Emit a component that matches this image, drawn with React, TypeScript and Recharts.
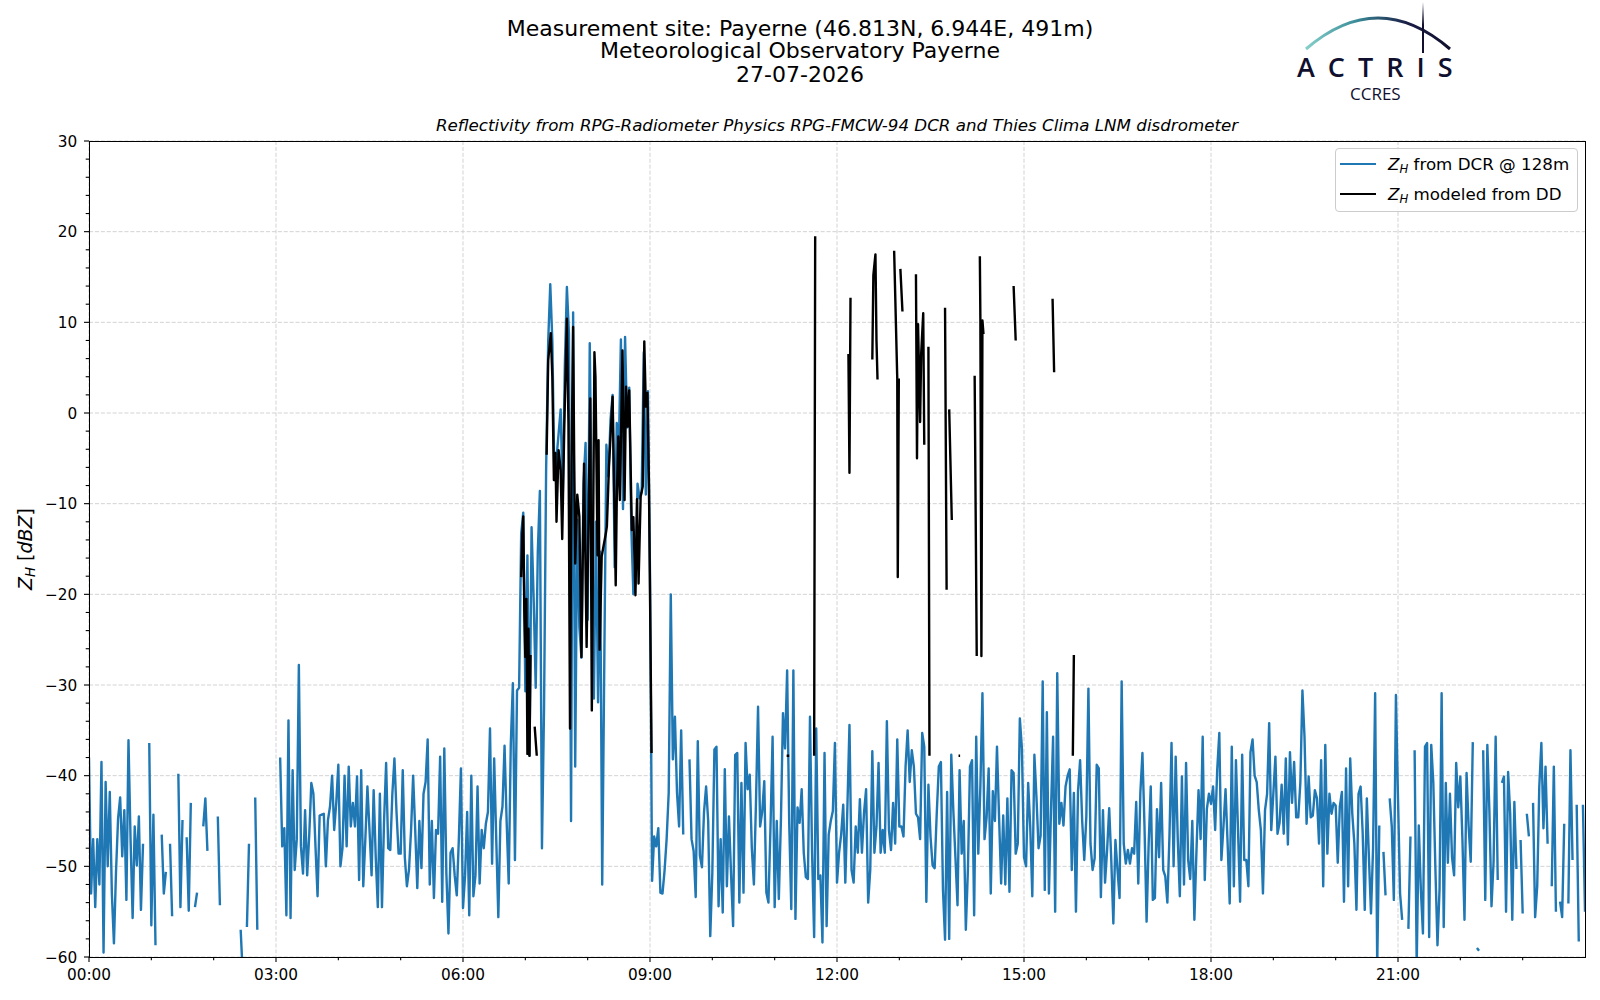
import React from 'react';
import { LineChart, Line, XAxis, YAxis, CartesianGrid, Legend } from 'recharts';

const FONT = '"DejaVu Sans", "Liberation Sans", sans-serif';
const BLUE = '#1f77b4';
const NAVY = '#10102e';

const titleLines = [
  'Measurement site: Payerne (46.813N, 6.944E, 491m)',
  'Meteorological Observatory Payerne',
  '27-07-2026',
];
const subtitle =
  'Reflectivity from RPG-Radiometer Physics RPG-FMCW-94 DCR and Thies Clima LNM disdrometer';

// x axis: minutes since 00:00
const hourTicks = [0, 60, 120, 180, 240, 300, 360, 420, 480, 540, 600, 660, 720, 780, 840, 900, 960, 1020, 1080, 1140, 1200, 1260, 1320, 1380];
const labelledHours = [0, 180, 360, 540, 720, 900, 1080, 1260];
// y axis: dBZ
const zTicks = [-60, -58, -56, -54, -52, -50, -48, -46, -44, -42, -40, -38, -36, -34, -32, -30, -28, -26, -24, -22, -20, -18, -16, -14, -12, -10, -8, -6, -4, -2, 0, 2, 4, 6, 8, 10, 12, 14, 16, 18, 20, 22, 24, 26, 28, 30];
const zLabelled = [-60, -50, -40, -30, -20, -10, 0, 10, 20, 30];

// Z_H from DCR @ 128m, one value every 2 minutes (null = no data)
const DCR_STEP_MIN = 2;
const dcrZ: (number | null)[] = [
  // 00
  -38, -53, -47, -54.5, -47, -52, -38.5, -59.5, -40.7, -50, -41.8, -53, -58.5, -50.6, -44.7, -42.4, -48.9, -43.8, -53.7, -36.1, -47, -55.7, -45.6, -49.9, -44.5, -54.8, -47.5, null, null, -36.4,
  // 01
  -56.5, -44.3, -58.7, null, null, -46.5, -53, -50.6, null, -47.5, -55.5, null, null, -39.8, -54.5, -44.9, null, -46.8, -54.9, -43, null, -54.5, -52.9, null, null, -45.6, -42.5, -48.3, null, null,
  // 02
  null, null, -44.5, -54.3, null, null, null, null, null, null, null, null, null, -57, -62, null, -56.7, -47.5, null, null, -42.4, -57, null, null, null, null, null, null, null, null,
  // 03
  null, null, -38, -47.8, -45.8, -55.4, -33.9, -55.7, -39.4, -50.4, -47, -27.8, -47.8, -50.8, -43.8, -51, -46.5, -40.8, -42, -47.8, -53.3, -44.4, -44.3, -44.2, -50, -44.9, -43.4, -40, -46, -43,
  // 04
  -38.8, -50, -48, -40, -47.8, -39, -45.6, -43, -45.6, -40.1, -51.5, -39.4, -52.2, -47, -41.2, -46, -51, -41.6, -49, -54.5, -42, -54.5, -45, -38.6, -48, -48.2, -42, -38.1, -44, -48.6,
  // 05
  -48.6, -39.4, -49, -52.2, -50.4, -46, -40, -46, -52.4, -45, -50.2, -42, -40.7, -36, -52, -45, -53.5, -46, -46.4, -37.9, -53.9, -37, -50.8, -57.4, -48.5, -48, -51, -53.2, -47, -39.2,
  // 06
  -54.6, -51, -44, -55.4, -40, -53.3, -51, -41.2, -51.9, -46, -48, -45.3, -44, -34.8, -49.7, -38.1, -47, -55.6, -45, -43.4, -36.7, -45, -51.9, -36.5, -29.8, -49.3, -30.6, -30.3, -13.3, -11,
  // 07
  -30.7, -15.7, -37.8, -12.6, -20.4, -30.3, -15.3, -8.6, -48, -32.6, -6.3, 7.9, 14.2, 7.9, -7.4, -5, -2.3, 0.4, -9.4, 5.2, 13.9, 8.7, -45, 11.1, -39, -11.8, -23.6, -27, -7.8, -3.3,
  // 08
  -22.8, 7.7, -11.8, -31.5, -12, -31.9, -15.3, -52, -27.5, -3.5, -7, -0.7, 2, -17, -1.1, -3.9, 8.1, -10.6, 8.4, -1.6, 2.8, -12.6, -20, -18.9, -7.8, -9.4, -8.7, 6.7, -9, 2.4,
  // 09
  -17.7, -51.6, -46.7, -47.8, -45.8, -52.9, -53, -50.5, -47, -41.9, -20, -38.2, -33.5, -41.9, -45.6, -35, -46.5, null, null, -38.2, -47, -48.3, -53.4, -36.2, -48.8, -50.1, -44, -41.2, -45, -57.7,
  // 10
  -50.7, -37.1, -36.8, -54.4, -47, -55.1, -39.3, -52.2, -44.5, -50.8, -56.6, -37.7, -37.5, -54, -40.8, -52.9, -36.4, -41.5, -39.9, -48, -52, -43, -32.4, -45.6, -44, -40.6, -52.9, -54, -45.6, -35.7,
  // 11
  -54.5, -45, -53.6, -45, -33.1, -37, -28.4, -45.2, -54.7, -28.4, -55.8, -43.5, -45.2, -41.5, -48.5, -51.2, -51.4, -33.5, -48.5, -57.8, -34.8, -51.4, -51, -58.4, -37.5, -56.6, -46.5, -45, -43.9, -36.4,
  // 12
  -51.8, -48.5, -46.5, -43.2, -51.8, -43.5, -34.4, -50.4, -51.8, -45.6, -48.5, -42.6, -48.5, -44.1, -41.5, -54, -50.4, -37.3, -48.5, -45.6, -38.6, -48.5, -46, -48.5, -34, -46, -48.2, -43, -47.5, -36,
  // 13
  -45.6, -45.6, -46.7, -39, -35, -40.7, -37.2, -39, -44.2, -44.6, -47, -35.3, -36.8, -53.9, -41, -46.7, -49.9, -50.2, -44.2, -39, -38.5, -52.6, -58.1, -41.8, -58, -37.7, -43.9, -49, -54.3, -39.4,
  // 14
  -48.6, -45, -57, -50.4, -39, -38.3, -55.4, -35.7, -48.6, -41.2, -30.9, -47, -44.6, -39.2, -53, -41.7, -45, -36.8, -44.6, -51.9, -44.4, -52, -42.5, -52.8, -39.4, -39.7, -48.6, -47.5, -33.7, -37,
  // 15
  -49, -50, -40.8, -45.6, -53.3, -37.7, -42.4, -48, -46.6, -29.6, -52.6, -33, -53, -43.8, -35.7, -55, -28.7, -45.3, -43, -45.5, -41.2, -40, -39.3, -50.4, -41.9, -55, -41.7, -38.3, -45, -49.3,
  // 16
  -44.5, -30.4, -47.5, -50.4, -49.1, -38.8, -39.2, -53.4, -43.8, -51.8, -48.2, -43.6, -49.3, -56.3, -47.1, -50.4, -53.5, -29.6, -47.5, -49.7, -48.2, -49.7, -48, -48.6, -42.9, -51.9, -41.9, -37.5, -45.6, -56.1,
  // 17
  -47.5, -41.2, -53.7, -53.5, -43.7, -49, -40.8, -50.4, -51.1, -54, -46.7, -36.4, -50, -37.9, -47, -53.3, -40.1, -52, -38.6, -49.3, -51.4, -45, -55.9, -48.3, -41.6, -47, -35.7, -51.5, -43.7, -42,
  // 18
  -43.1, -41.2, -46, -39.3, -35.3, -49.3, -45.6, -41.5, -47.5, -54.1, -36.8, -52.2, -38.3, -46, -53.9, -37.7, -49.3, -49.3, -52.2, -37.4, -36, -40, -40.7, -43.8, -46, -53, -43.8, -42, -34.2, -46,
  // 19
  -42, -37.9, -46.4, -45.2, -41, -46.4, -38.1, -47.6, -37.4, -43, -38.5, -44.6, -44.6, -40.8, -30.6, -35.7, -45.3, -40.1, -44.6, -44.4, -41.6, -42.5, -47.5, -38.3, -52.2, -36.6, -48.6, -42, -44.2, -43,
  // 20
  -43.3, -49.6, -43.4, -41.8, -53.9, -39.2, -52.2, -38.1, -44.2, -47.5, -54.8, -42, -41.2, -46.3, -54.8, -42.5, -49, -55.2, -48, -30.9, -61, -45.5, null, -48.4, -53.2, null, -42.5, -45.6, -53.7, -31.1,
  // 21
  -42.5, -53, -55.9, null, null, -56.9, -46.7, null, -37.2, -61, -45.5, -52.6, -57.4, -36.8, -36.4, -57.8, -36.6, -40.8, -50.3, -58.7, -52.5, -30.9, -56.7, -40.8, -49.6, -42, -49, -51, -38.6, -43.5,
  // 22
  -40.1, -47, -55.9, -39.7, -45.6, -49.5, -36.3, null, -59, -59.3, null, -37.2, -53.7, -36.6, -44, -54.4, -49.5, -35.7, -51.5, null, -40.8, -40.1, -55, -39.6, -44.2, -55.9, -42.9, -50.3, null, -47.1,
  // 23 (to 24:00)
  -55.2, null, -44.2, -46.7, null, -43, -55.6, -52.2, -41.2, -36.4, -45.8, -39, -47.5, null, -52.2, -39, -55, null, -53.9, -55.6, -45.3, null, -54.1, -37.2, -49.3, null, -43.2, -58.3, null, -43.2, -55,
];

// Z_H modeled from disdrometer: minutes of day and values (null = gap)
const ddMinutes: number[] = [
  416, 417, 418, 419, 420, 421, 422, 423, 424, 425, 427,
  429, 431, 435,
  440.5, 442, 444.5, 446, 447.5, 449, 450, 452, 454, 455.5,
  457.5, 460, 461.5, 463, 464.5, 466, 467, 468, 470, 472,
  474, 476.5, 479, 482.5, 484, 486.5, 487.5, 489.5, 490.5, 491.5,
  493.5, 497.5, 498.5, 500.5, 504, 507, 508, 509.5, 511, 513.5,
  515.5, 517, 518.5, 520, 522.5, 524, 526, 527.5, 529, 531,
  533, 534.5, 536, 537.5, 539, 541.5, 600,
  671.5, 674, 686,
  698, 699, 715,
  731, 732, 733, 744,
  754, 755, 757, 758, 759, 767,
  775, 778, 778.5, 779.5, 780.2,
  781, 783, 790,
  796, 797, 798, 800, 801, 803, 804, 806,
  808, 809, 816,
  824, 825.5, 827,
  828, 830.5, 834,
  837, 838.5, 845,
  852.5, 854.5, 856,
  857.5, 858, 859, 860, 861, 875,
  890, 892, 910,
  927.5, 929, 938,
  947, 948,
];
const ddZ: (number | null)[] = [
  -18.1, -13.5, -11.4, -21.7, -26.9, -20.5, -37.6, -23.8, -37.8, -26.7, null,
  -34.6, -37.8, null,
  -4.6, 5.8, 8.8, 4, -7.4, -4.4, -12, -4.1, -6.3, -13.9,
  -1.5, 10.4, -1.1, -34.8, -5.2, 9.5, -4.7, -16.6, -9, -11.4,
  -26.9, -5.6, -25.8, 1.6, -32.8, 6.7, 4, -15.7, -3, -26.1,
  -15.8, -13.3, -12.5, -5.9, 1.8, -19, -9.6, -2.6, -9.6, 6.9,
  -9.6, 2.9, -1.5, 2.5, -12.9, -11.5, -20.1, -9.5, -18.8, -9.2,
  -8.1, 7.9, 0.7, 2.2, -8, -37.5, null,
  -37.8, -37.8, null,
  -37.8, 19.5, null,
  6.5, -6.6, 12.7, null,
  5.9, 15.2, 17.5, 8, 3.7, null,
  17.9, 3.8, -18.1, 3.8, null,
  15.9, 11.2, null,
  15.3, -5, 9.8, -1, 6.5, 11, -3.5, null,
  7.3, -37.8, null,
  11.6, -19.5, null,
  0.4, -11.8, null,
  -37.8, -37.8, null,
  4.1, -26.8, null,
  17.3, 10.5, -26.8, 10.2, 8.7, null,
  14, 8, null,
  12.6, 4.5, null,
  -37.8, -26.7,
];

const dcrData = dcrZ.map((z, i) => ({ t: i * DCR_STEP_MIN, z }));
const ddData = ddMinutes.map((t, i) => ({ t, z: ddZ[i] }));

const fmtTime = (m: number) =>
  `${String(Math.floor(m / 60)).padStart(2, '0')}:${String(m % 60).padStart(2, '0')}`;
const fmtZ = (v: number) => (v < 0 ? `\u2212${Math.abs(v)}` : `${v}`);

const XTick = (props: any) => {
  const { x, y, payload } = props;
  const v = payload.value as number;
  const major = labelledHours.includes(v);
  return (
    <g>
      <line x1={x} x2={x} y1={y} y2={y + (major ? 5 : 3.3)} stroke="#000" strokeWidth={1.1} />
      {major && (
        <text x={x} y={y + 23} textAnchor="middle" fontFamily={FONT} fontSize={15.3} fill="#000">
          {fmtTime(v)}
        </text>
      )}
    </g>
  );
};

const YTick = (props: any) => {
  const { x, y, payload } = props;
  const v = payload.value as number;
  const major = zLabelled.includes(v);
  return (
    <g>
      <line x1={x - (major ? 5 : 3.3)} x2={x} y1={y} y2={y} stroke="#000" strokeWidth={1.1} />
      {major && (
        <text x={x - 11.7} y={y + 5.6} textAnchor="end" fontFamily={FONT} fontSize={15.3} fill="#000">
          {fmtZ(v)}
        </text>
      )}
    </g>
  );
};

const ZH = () => (
  <span>
    <i>Z</i>
    <sub style={{ fontSize: '0.7em', fontStyle: 'italic', verticalAlign: '-0.25em', lineHeight: 0 }}>H</sub>
  </span>
);

const legendItems = [
  { color: BLUE, label: ' from DCR @ 128m' },
  { color: '#000000', label: ' modeled from DD' },
];

const LegendBox = () => (
  <div
    style={{
      width: 243,
      height: 64,
      boxSizing: 'border-box',
      border: '1px solid #cccccc',
      borderRadius: 4,
      background: 'rgba(255,255,255,0.85)',
      fontFamily: FONT,
      fontSize: 16.7,
      color: '#000',
    }}
  >
    {legendItems.map((it) => (
      <div key={it.label} style={{ height: 30, display: 'flex', alignItems: 'center' }}>
        <div style={{ marginLeft: 4, width: 36, height: 2.4, background: it.color }} />
        <div style={{ marginLeft: 12, whiteSpace: 'nowrap' }}>
          <ZH />
          {it.label}
        </div>
      </div>
    ))}
  </div>
);

const Logo = () => (
  <svg width={1600} height={110} style={{ position: 'absolute', left: 0, top: 0, pointerEvents: 'none' }}>
    <defs>
      <linearGradient id="arcGrad" x1="1306" y1="0" x2="1450" y2="0" gradientUnits="userSpaceOnUse">
        <stop offset="0" stopColor="#86d0c9" />
        <stop offset="0.35" stopColor="#3a8c99" />
        <stop offset="0.7" stopColor="#1a1d45" />
        <stop offset="1" stopColor={NAVY} />
      </linearGradient>
      <linearGradient id="poleGrad" x1="0" y1="2" x2="0" y2="53" gradientUnits="userSpaceOnUse">
        <stop offset="0" stopColor="#ffffff" />
        <stop offset="0.45" stopColor={NAVY} />
        <stop offset="1" stopColor={NAVY} />
      </linearGradient>
    </defs>
    <path d="M 1306 49 Q 1378 -13 1450 49" fill="none" stroke="url(#arcGrad)" strokeWidth={3} />
    <line x1={1423} x2={1423} y1={2} y2={53} stroke="url(#poleGrad)" strokeWidth={2} />
    <text x={1297} y={76.5} fontFamily='"Open Sans", "DejaVu Sans", sans-serif' fontSize={27} fontWeight={600} letterSpacing={13} fill={NAVY}>
      ACTRIS
    </text>
    <text x={1350} y={100} fontFamily='"Open Sans", "DejaVu Sans", sans-serif' fontSize={17} fill={NAVY}>
      CCRES
    </text>
  </svg>
);

export default function App() {
  return (
    <div style={{ position: 'absolute', left: 0, top: 0, width: 1600, height: 1000, background: '#fff', fontFamily: FONT }}>
      {titleLines.map((line, i) => (
        <div
          key={line}
          style={{
            position: 'absolute',
            left: 0,
            width: 1600,
            top: [17.6, 40, 63.5][i],
            textAlign: 'center',
            fontSize: 22,
            lineHeight: '22px',
            color: '#000',
            whiteSpace: 'nowrap',
          }}
        >
          {line}
        </div>
      ))}
      <div
        style={{
          position: 'absolute',
          left: 89,
          width: 1496,
          top: 117.2,
          textAlign: 'center',
          fontSize: 16.7,
          lineHeight: '16.7px',
          fontStyle: 'italic',
          color: '#000',
          whiteSpace: 'nowrap',
        }}
      >
        {subtitle}
      </div>
      <Logo />
      <div
        style={{
          position: 'absolute',
          left: 24.7,
          top: 549,
          width: 200,
          textAlign: 'center',
          fontSize: 19,
          lineHeight: '19px',
          transform: 'translate(-50%, -50%) rotate(-90deg)',
          whiteSpace: 'nowrap',
        }}
      >
        <ZH /> [<i>dBZ</i>]
      </div>
      <div style={{ position: 'absolute', left: 0, top: 0 }}>
        <LineChart width={1600} height={1000} margin={{ top: 141, right: 15, bottom: 13, left: 29 }}>
          <CartesianGrid
            stroke="#d3d3d3"
            strokeDasharray="4.1 1.8"
            strokeWidth={1}
            horizontalValues={zLabelled}
            verticalValues={labelledHours}
          />
          <XAxis
            dataKey="t"
            type="number"
            domain={[0, 1440]}
            allowDataOverflow
            ticks={hourTicks}
            interval={0}
            tick={<XTick />}
            tickLine={false}
            tickSize={0}
            tickMargin={0}
            axisLine={false}
            height={30}
          />
          <YAxis
            type="number"
            domain={[-60, 30]}
            allowDataOverflow
            ticks={zTicks}
            interval={0}
            tick={<YTick />}
            tickLine={false}
            tickSize={0}
            tickMargin={0}
            axisLine={false}
            width={60}
          />
          <Line
            data={dcrData}
            dataKey="z"
            type="linear"
            stroke={BLUE}
            strokeWidth={2.4}
            strokeLinejoin="round"
            dot={false}
            activeDot={false}
            connectNulls={false}
            isAnimationActive={false}
          />
          <Line
            data={ddData}
            dataKey="z"
            type="linear"
            stroke="#000000"
            strokeWidth={2.4}
            strokeLinejoin="round"
            dot={false}
            activeDot={false}
            connectNulls={false}
            isAnimationActive={false}
          />
          <Legend
            layout="vertical"
            align="center"
            verticalAlign="middle"
            content={() => <LegendBox />}
            wrapperStyle={{ position: 'absolute', left: 1335, top: 148, width: 243, height: 64, right: 'auto', bottom: 'auto' }}
          />
        </LineChart>
      </div>
      <div
        style={{
          position: 'absolute',
          left: 88.5,
          top: 140.5,
          width: 1497,
          height: 817,
          boxSizing: 'border-box',
          border: '1px solid #000',
          pointerEvents: 'none',
        }}
      />
    </div>
  );
}
